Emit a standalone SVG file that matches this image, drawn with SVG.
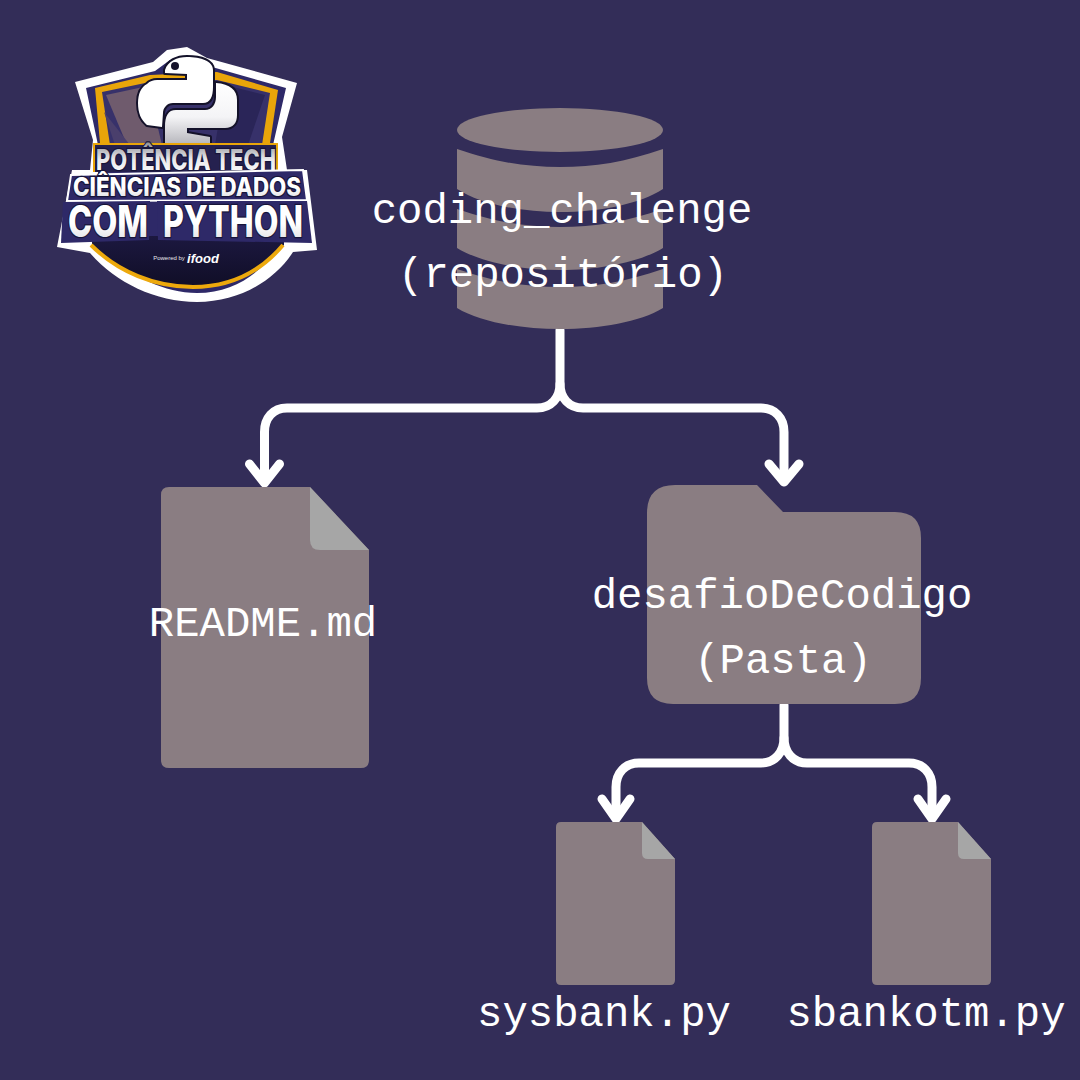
<svg xmlns="http://www.w3.org/2000/svg" width="1080" height="1080" viewBox="0 0 1080 1080">
<defs>
<linearGradient id="chrome" x1="0" y1="0" x2="0" y2="1"><stop offset="0" stop-color="#ffffff"/><stop offset="0.55" stop-color="#f4f4f6"/><stop offset="1" stop-color="#b5b5bb"/></linearGradient>
<linearGradient id="chrome2" x1="0" y1="0" x2="0" y2="1"><stop offset="0" stop-color="#ffffff"/><stop offset="0.55" stop-color="#ffffff"/><stop offset="1" stop-color="#d5d5da"/></linearGradient>
<linearGradient id="chrome3" x1="0" y1="0" x2="0" y2="1"><stop offset="0" stop-color="#8f8f96"/><stop offset="0.5" stop-color="#e9e9ec"/><stop offset="1" stop-color="#ffffff"/></linearGradient>
<linearGradient id="dark" x1="0" y1="0" x2="0" y2="1"><stop offset="0" stop-color="#1c1840"/><stop offset="1" stop-color="#100e26"/></linearGradient>
</defs>
<style>
.shape{fill:#8a7d82}
.fold{fill:#a6a6a6}
.label{font-family:"Liberation Mono","DejaVu Sans Mono",monospace;font-size:42.3px;fill:#fff;text-anchor:middle}
.wire{fill:none;stroke:#fff;stroke-width:9;stroke-linecap:round;stroke-linejoin:round}
.logotext{font-family:"Inter","Liberation Sans",sans-serif;font-weight:800;text-anchor:middle;paint-order:stroke;stroke:#171438;stroke-width:2.5px}
.snake{stroke:#14122a;stroke-width:4;stroke-linejoin:round;paint-order:stroke}
</style>
<rect width="1080" height="1080" fill="#332d58"/>

<g id="logo">
<path d="M75 82L153 62L167 50L187 47L207 58L297 83L282 137L287 170L307 170L317 250L293 252C275 280 240 302 197 302C155 302 115 282 90 253L57 247L72 170L90 170L93 140Z" fill="#fff"/>
<path d="M86 88L155 71L170 60L205 65L286 88L273 145L280 245C262 272 235 293 197 293C160 293 125 272 98 245L98 145Z" fill="#2e2968"/>
<path d="M95 88L150 75L217 72L278 90L270 143L100 143Z" fill="#e9a50a"/>
<path d="M102 92L150 82L217 80L270 93L262 145L110 145Z" fill="#37316a"/>
<path d="M106 95L148 86L162 145L127 145Z" fill="#6f5b6d"/>
<path d="M104 112L130 145L115 145Z" fill="#4a3f6c"/>
<path d="M265 95L225 85L215 145L248 145Z" fill="#2a2558"/>
<path d="M92 236H284V245C262 270 232 287 193 287C155 287 118 270 92 245Z" fill="url(#dark)"/>
<path d="M91 245C118 272 155 287 193 287C232 287 262 270 283 245" fill="none" stroke="#eda90c" stroke-width="4"/>
<path class="snake" d="M165 70C168 61 177 57 187 57C201 57 213 61 213 70L213 87C213 97 210 103 203 103L173 103C167 103 163 108 163 113L162 127L147 125C141 120 138 113 138 103C138 94 141 87 147 84C150 81 153 80 157 80L187 80L187 74L165 73Z" fill="#fff"/>
<path class="snake" d="M216 83C230 84 237 90 237 100L237 115C237 123 233 128 225 128L187 128L187 133L210 137L210 145L165 145L165 127C165 116 168 110 176 110L205 110C212 110 216 104 216 97Z" fill="url(#chrome)"/>
<circle cx="175" cy="66" r="4" fill="#14122a"/>
<rect x="93" y="143" width="185" height="29" fill="#e9a50a"/>
<rect x="95" y="145" width="181" height="27" fill="#25214f"/>
<text class="logotext" x="186" y="170" font-size="29" textLength="180" lengthAdjust="spacingAndGlyphs" fill="url(#chrome3)">POTÊNCIA TECH</text>
<path d="M71 175L303 170L307 200L67 201Z" fill="#2e2968" stroke="#fff" stroke-width="2"/>
<text class="logotext" x="187" y="196" font-size="26" textLength="228" lengthAdjust="spacingAndGlyphs" fill="url(#chrome2)">CIÊNCIAS DE DADOS</text>
<path d="M63 202L150 201L149 240L61 243Z" fill="#2e2968"/>
<path d="M157 201L307 201L312 243L158 240Z" fill="#2e2968"/>
<text class="logotext" x="108" y="237" font-size="44" textLength="80" lengthAdjust="spacingAndGlyphs" fill="url(#chrome2)">COM</text>
<text class="logotext" x="233" y="237" font-size="44" textLength="140" lengthAdjust="spacingAndGlyphs" fill="url(#chrome2)">PYTHON</text>
<text x="169" y="260" font-family="'Liberation Sans',sans-serif" font-size="6" text-anchor="middle" fill="#e6e6ea">Powered by</text>
<text x="203" y="263" font-family="'Liberation Sans',sans-serif" font-weight="700" font-size="13" font-style="italic" text-anchor="middle" fill="#fff">ifood</text>
</g>

<g id="connectors">
<path class="wire" d="M560 330V384C560 398 551 408 537 408H287C273 408 264.500 418 264.500 432V480"/>
<path class="wire" d="M560 384C560 398 569 408 583 408H761C775 408 784 418 784 432V480"/>
<path class="wire" d="M249.500 464L264.500 483L279.500 464M769 464L784 482L799 464"/>
<path class="wire" d="M784 705V738C784 752 775 763 761 763H639C625 763 616 773 616 787V816"/>
<path class="wire" d="M784 738C784 752 793 763 807 763H909C923 763 932 773 932 787V816"/>
<path class="wire" d="M602 799L616 819L630 799M918 799L932 819L946 799"/>
</g>

<g id="repo">
<ellipse class="shape" cx="560" cy="130" rx="103" ry="22"/>
<path class="shape" d="M457 149C495 162 525 167 560 167C595 167 625 162 663 149V189C640 204 600 212 560 212C520 212 480 204 457 189Z"/>
<path class="shape" d="M457 209C495 222 525 227 560 227C595 227 625 222 663 209V248C640 262 600 270 560 270C520 270 480 262 457 248Z"/>
<path class="shape" d="M457 269C495 282 525 287 560 287C595 287 625 282 663 269V308C640 322 600 329 560 329C520 329 480 322 457 308Z"/>
<text class="label" x="562" y="223">coding_chalenge</text>
<text class="label" x="563" y="287">(repositório)</text>
</g>

<g id="readme">
<path class="shape" d="M169 487H310L369 550V760Q369 768 361 768H169Q161 768 161 760V495Q161 487 169 487Z"/>
<path class="fold" d="M310 487L369 550H320Q310 550 310 540Z"/>
<text class="label" x="263" y="636">README.md</text>
</g>

<g id="folder">
<path class="shape" d="M675 485H757L783 512H895Q921 512 921 538V678Q921 704 895 704H673Q647 704 647 678V513Q647 485 675 485Z"/>
<text class="label" x="782" y="608">desafioDeCodigo</text>
<text class="label" x="783" y="673">(Pasta)</text>
</g>

<g id="sysbank">
<path class="shape" d="M561 822H642L675 859V980Q675 985 670 985H561Q556 985 556 980V827Q556 822 561 822Z"/>
<path class="fold" d="M642 822L675 859H648Q642 859 642 853Z"/>
<text class="label" x="604" y="1026">sysbank.py</text>
</g>

<g id="sbankotm">
<path class="shape" d="M877 822H958L991 859V980Q991 985 986 985H877Q872 985 872 980V827Q872 822 877 822Z"/>
<path class="fold" d="M958 822L991 859H964Q958 859 958 853Z"/>
<text class="label" x="926" y="1026">sbankotm.py</text>
</g>
</svg>
